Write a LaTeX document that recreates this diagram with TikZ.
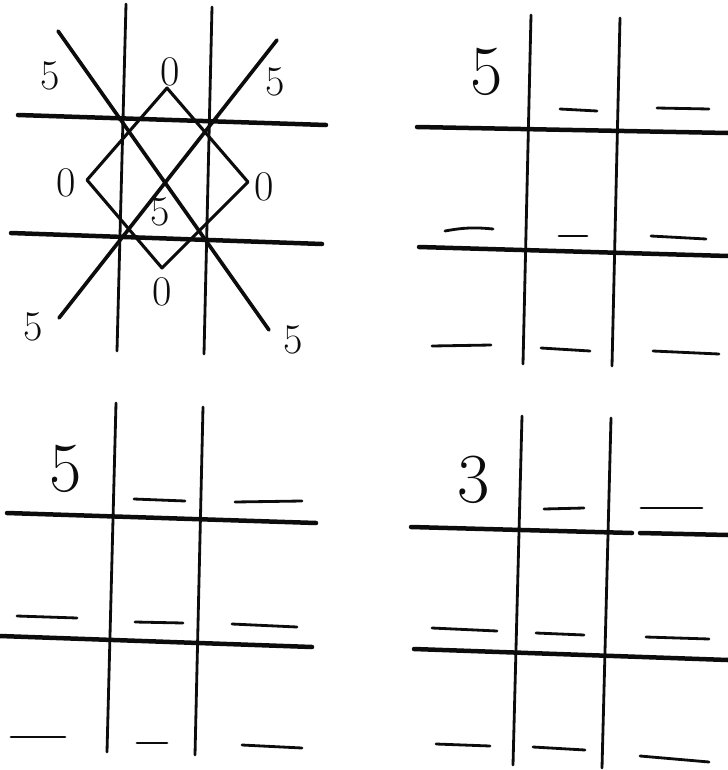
\documentclass[tikz,border=0pt]{standalone}
\usepackage{xcolor}
\usepackage{tikz}
\definecolor{pencil}{RGB}{12,12,12}

\tikzset{
  vrule/.style={line width=2pt, color=pencil, line cap=round},
  hrule/.style={line width=3.2pt, color=pencil, line cap=round},
  slash/.style={line width=2.6pt, color=pencil, line cap=round},
  blankline/.style={line width=2pt, color=pencil, line cap=round},
  digit/.style={color=pencil, inner sep=0pt, font=\fontsize{30}{34}\selectfont},
  bigdigit/.style={color=pencil, inner sep=0pt, font=\fontsize{50}{54}\selectfont}
}

\begin{document}
\begin{tikzpicture}[x=0.025cm, y=-0.025cm]
\useasboundingbox (0,0) rectangle (728,770);

% top left board, the solved one
\draw[vrule] (126,4) -- (117,351);
\draw[vrule] (212,7) -- (204,354);
\draw[hrule] (18,115) -- (326,125);
\draw[hrule] (11,233) -- (322,244);
\draw[slash] (58,31) -- (269,330);
\draw[slash] (277,40) -- (59,318);
\draw[line width=2.2pt, color=pencil, line join=round] (167,88) -- (248,182) -- (162,268) -- (87,180) -- cycle;
\node[digit] (tlfive) at (50,76) {5};
\node[digit] (trfive) at (275,82) {5};
\node[digit] (topzero) at (170,72) {0};
\node[digit] (leftzero) at (66,183) {0};
\node[digit] (rightzero) at (264,187) {0};
\node[digit] (midfive) at (160,212) {5};
\node[digit] (botzero) at (162,292) {0};
\node[digit] (blfive) at (33,327) {5};
\node[digit] (brfive) at (293,340) {5};

% top right board
\draw[vrule] (531,15) -- (523,364);
\draw[vrule] (620,18) -- (612,366);
\draw[hrule] (417,127) -- (728,133);
\draw[hrule] (419,247) -- (728,256);
\node[bigdigit] (firstfive) at (487,72) {5};
\draw[blankline] (560,109) -- (597,111);
\draw[blankline] (657,108) -- (709,109);
\draw[blankline] (445,231) to[bend left=8] (493,229);
\draw[blankline] (559,236) -- (587,236);
\draw[blankline] (651,236) -- (706,239);
\draw[blankline] (432,346) -- (491,345);
\draw[blankline] (541,348) -- (590,351);
\draw[blankline] (653,351) -- (719,354);

% bottom left board
\draw[vrule] (116,403) -- (107,752);
\draw[vrule] (203,407) -- (195,755);
\draw[hrule] (7,513) -- (316,523);
\draw[hrule] (0,636) -- (312,647);
\node[bigdigit] (secondfive) at (66,469) {5};
\draw[blankline] (134,499) -- (185,501);
\draw[blankline] (235,502) -- (302,501);
\draw[blankline] (17,616) -- (77,618);
\draw[blankline] (135,622) -- (183,623);
\draw[blankline] (232,624) -- (297,627);
\draw[blankline] (11,737) -- (65,737);
\draw[blankline] (137,743) -- (167,743);
\draw[blankline] (242,745) -- (302,748);

% bottom right board
\draw[vrule] (522,416) -- (513,765);
\draw[vrule] (611,418) -- (602,768);
\draw[hrule] (411,527) -- (632,533);
\draw[hrule] (640,533) -- (728,535);
\draw[hrule] (414,649) -- (728,660);
\node[bigdigit] (three) at (474,480) {3};
\draw[blankline] (544,509) -- (584,508);
\draw[blankline] (641,508) -- (702,508);
\draw[blankline] (432,628) -- (497,631);
\draw[blankline] (536,633) -- (584,635);
\draw[blankline] (646,637) -- (709,639);
\draw[blankline] (436,744) -- (490,746);
\draw[blankline] (533,747) -- (585,750);
\draw[blankline] (640,756) -- (709,762);
\end{tikzpicture}
\end{document}
